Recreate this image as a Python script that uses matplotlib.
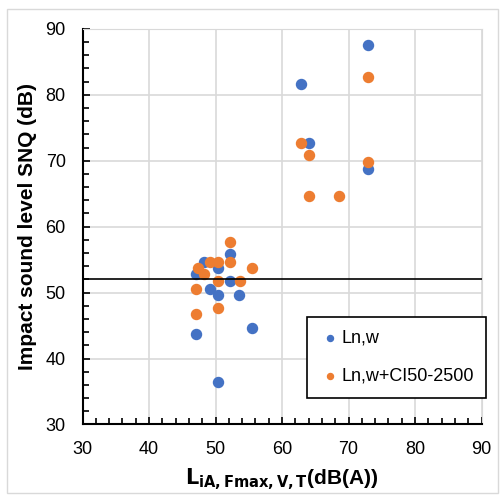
import matplotlib.pyplot as plt
from matplotlib.patches import Rectangle
from matplotlib.ticker import MultipleLocator

plt.rcParams['font.family'] = ['Liberation Sans', 'DejaVu Sans']

# Ln,w
lnw_x = [48.2, 47.1, 52.2, 50.4, 52.2, 49.1, 50.4, 53.6, 55.5, 47.1, 50.4,
         72.9, 62.8, 64.1, 72.9]
lnw_y = [54.7, 52.8, 55.9, 53.7, 51.7, 50.5, 49.7, 49.7, 44.7, 43.7, 36.5,
         87.6, 81.7, 72.7, 68.7]

# Ln,w+CI50-2500
lnwci_x = [52.2, 52.2, 49.2, 50.4, 47.3, 48.3, 55.5, 50.4, 53.7, 47.1, 50.4, 47.1,
           72.9, 62.8, 64.1, 72.9, 64.1, 68.5]
lnwci_y = [57.7, 54.6, 54.6, 54.6, 53.7, 52.8, 53.7, 51.7, 51.7, 50.6, 47.7, 46.8,
           82.7, 72.7, 70.8, 69.8, 64.7, 64.7]

limit_y = 52.0

fig = plt.figure(figsize=(5, 4.97), dpi=100)
ax = fig.add_axes([0.165, 0.146, 0.798, 0.796])

# chart area border
fig.patches.append(Rectangle((0.014, 0.008), 0.982, 0.974, transform=fig.transFigure,
                             fill=False, edgecolor='#d9d9d9', linewidth=1))

ax.scatter(lnw_x, lnw_y, s=52, color='#4472C4', label='Ln,w', zorder=3)
ax.scatter(lnwci_x, lnwci_y, s=52, color='#ED7D31', label='Ln,w+CI50-2500', zorder=4)
ax.axhline(limit_y, color='black', linewidth=1.2, zorder=5)

ax.set_xlim(30, 90)
ax.set_ylim(30, 90)
ax.xaxis.set_major_locator(MultipleLocator(10))
ax.yaxis.set_major_locator(MultipleLocator(10))
ax.xaxis.set_minor_locator(MultipleLocator(2))
ax.yaxis.set_minor_locator(MultipleLocator(2))
ax.tick_params(which='both', direction='in', top=False, right=False,
               color='black', width=1.2)
ax.tick_params(which='major', length=5, labelsize=13, pad=12)
ax.tick_params(which='minor', length=4)
ax.grid(True, which='major', color='#d9d9d9', linewidth=1.2, zorder=0)
ax.set_axisbelow(True)

for s in ['top', 'right']:
    ax.spines[s].set_color('#d9d9d9')
for s in ['left', 'bottom']:
    ax.spines[s].set_color('black')
    ax.spines[s].set_linewidth(1.5)

ax.set_ylabel('Impact sound level SNQ (dB)', fontsize=15, fontweight='bold', labelpad=6)
ax.set_xlabel(r'$\mathbf{L_{iA,Fmax,V,T}}$(dB(A))', fontsize=15, fontweight='bold', labelpad=6)

leg = ax.legend(loc='lower right', bbox_to_anchor=(1.035, 0.045), fontsize=13,
                frameon=True, fancybox=False, edgecolor='black', framealpha=1,
                handletextpad=0.0, markerscale=0.6, borderpad=0.7, labelspacing=1.2,
                handlelength=1.2)
leg.get_frame().set_linewidth(1.2)

fig.savefig('out.png', dpi=100)
